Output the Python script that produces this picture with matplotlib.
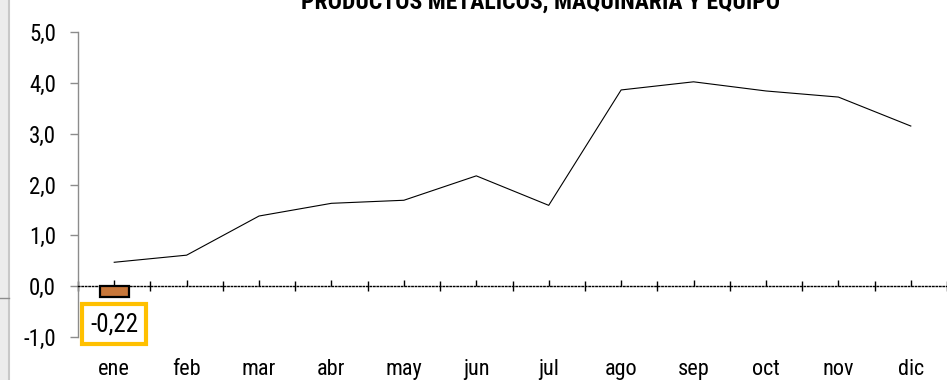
import matplotlib
matplotlib.use("Agg")
import matplotlib.pyplot as plt
from matplotlib.ticker import FixedLocator
from matplotlib.lines import Line2D
from matplotlib.patches import Rectangle

plt.rcParams['font.family'] = ['Roboto Condensed', 'Archivo Narrow', 'DejaVu Sans']

months = ["ene", "feb", "mar", "abr", "may", "jun", "jul", "ago", "sep", "oct", "nov", "dic"]
line_values = [0.47, 0.61, 1.38, 1.63, 1.69, 2.17, 1.59, 3.86, 4.02, 3.84, 3.72, 3.15]
bar_months = ["ene"]
bar_values = [-0.22]
bar_labels = ["-0,22"]
y_ticks = [-1.0, 0.0, 1.0, 2.0, 3.0, 4.0, 5.0]
y_tick_labels = ["-1,0", "0,0", "1,0", "2,0", "3,0", "4,0", "5,0"]
title = "PRODUCTOS METALICOS, MAQUINARIA Y EQUIPO"

fig = plt.figure(figsize=(9.47, 3.80), dpi=100)
ax = fig.add_axes([78 / 947, 43 / 380, 1 - 78 / 947, (337 - 32) / 380])

x = list(range(len(months)))
ax.set_xlim(-0.5, len(months) - 0.5)
ax.set_ylim(-1.0, 5.0)

# Monthly line
ax.plot(x, line_values, color="black", lw=0.8, zorder=3)

# Bar for the months reported separately
bar_x = [months.index(m) for m in bar_months]
ax.bar(bar_x, bar_values, width=0.4, color="#C8773A", edgecolor="black",
       linewidth=1.6, zorder=4)
for bx, bv, bl in zip(bar_x, bar_values, bar_labels):
    ax.text(bx, -0.75, bl, ha="center", va="center", fontsize=18,
            bbox=dict(boxstyle="square,pad=0.32", facecolor="white",
                      edgecolor="#FFC000", linewidth=3), zorder=5)

# Spines: gray y axis, dotted category axis at zero
for s in ("top", "right"):
    ax.spines[s].set_visible(False)
ax.spines["left"].set_color("#8c8c8c")
ax.spines["left"].set_linewidth(1.0)
ax.spines["bottom"].set_position(("data", 0))
ax.spines["bottom"].set_linestyle((0, (1, 1.5)))
ax.spines["bottom"].set_linewidth(1.0)

ax.set_yticks(y_ticks)
ax.set_yticklabels(y_tick_labels)
ax.tick_params(axis="y", direction="out", length=6, width=1, color="#8c8c8c",
               pad=10, labelsize=16.5)

# Category boundary ticks and center ticks on the zero axis
ax.xaxis.set_major_locator(FixedLocator([i - 0.5 for i in range(len(months) + 1)]))
ax.xaxis.set_minor_locator(FixedLocator(x))
ax.tick_params(axis="x", which="major", direction="inout", length=7, width=1.0,
               color="black", labelbottom=False)
ax.tick_params(axis="x", which="minor", direction="in", length=4, width=1.0,
               color="black", labelbottom=False)

# Month labels along the bottom
sec = ax.secondary_xaxis("bottom")
sec.set_xticks(x)
sec.set_xticklabels(months)
sec.spines["bottom"].set_visible(False)
sec.tick_params(axis="x", length=0, pad=16, labelsize=16)

fig.text(541 / 947, 1 - 9 / 380, title, ha="center", va="baseline",
         fontsize=17, fontweight="bold")

# Frame edge at the left border
fig.patches.append(Rectangle((0, 0), 10 / 947, 1, transform=fig.transFigure,
                             facecolor="#ececec", edgecolor="none", zorder=0))
fig.lines.append(Line2D([9 / 947, 9 / 947], [0, 1], transform=fig.transFigure,
                        color="#c8c8c8", lw=1.5))
fig.lines.append(Line2D([0, 9 / 947], [1 - 298 / 380, 1 - 298 / 380],
                        transform=fig.transFigure, color="#8c8c8c", lw=1))

fig.savefig("out.png", dpi=100)
